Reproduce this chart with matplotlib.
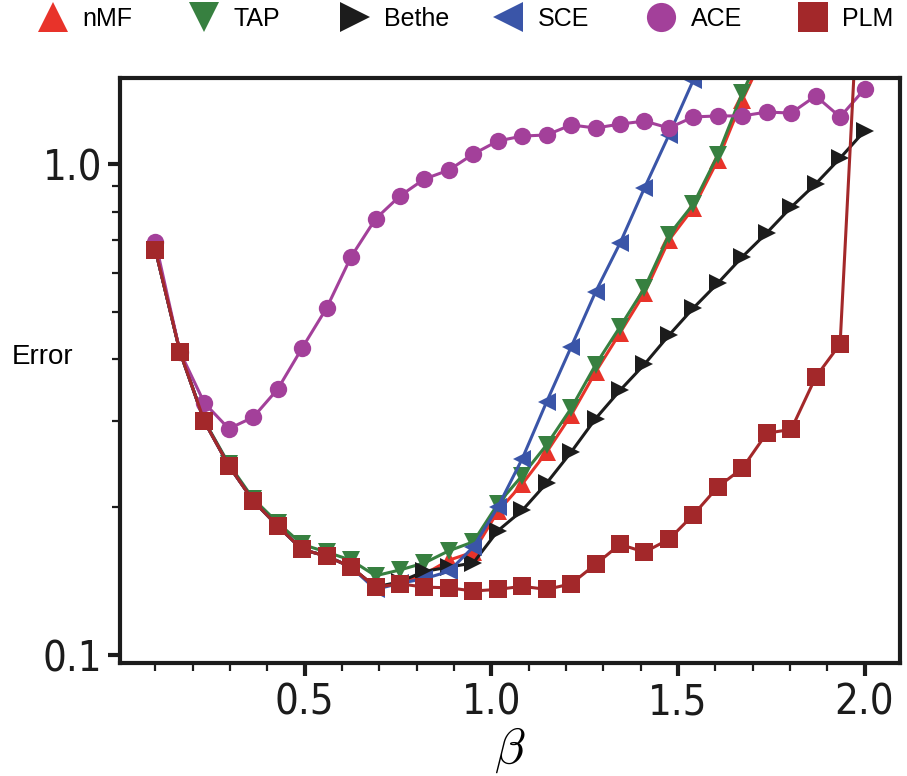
import matplotlib
matplotlib.use('Agg')
import matplotlib.pyplot as plt
from matplotlib import font_manager
from matplotlib.font_manager import FontProperties
from matplotlib.lines import Line2D
from matplotlib.ticker import FixedLocator, MultipleLocator, NullFormatter
import numpy as np

# inverse temperature grid (30 points from 0.1 to 2.0)
beta = np.linspace(0.1, 2.0, 30)

# reconstruction error per method
err_nmf = [0.668, 0.415, 0.299, 0.243, 0.206, 0.183, 0.164, 0.159, 0.151, 0.1375,
           0.140, 0.146, 0.156, 0.162, 0.196, 0.223, 0.259, 0.308, 0.377, 0.453,
           0.546, 0.700, 0.814, 1.019, 1.350, 1.72]
err_tap = [0.668, 0.415, 0.300, 0.245, 0.208, 0.186, 0.168, 0.162, 0.156, 0.145,
           0.149, 0.154, 0.163, 0.170, 0.203, 0.232, 0.268, 0.318, 0.390, 0.466,
           0.559, 0.717, 0.829, 1.043, 1.395, 1.78]
err_bethe = [0.668, 0.415, 0.299, 0.243, 0.206, 0.183, 0.164, 0.159, 0.151, 0.1375,
             0.141, 0.148, 0.151, 0.154, 0.179, 0.197, 0.224, 0.259, 0.303, 0.346,
             0.391, 0.448, 0.509, 0.572, 0.647, 0.724, 0.817, 0.911, 1.028, 1.168]
err_sce = [0.668, 0.415, 0.299, 0.243, 0.206, 0.183, 0.164, 0.159, 0.151, 0.136,
           0.140, 0.143, 0.148, 0.166, 0.200, 0.251, 0.328, 0.424, 0.549, 0.690,
           0.894, 1.146, 1.483]
err_ace = [0.694, 0.415, 0.326, 0.289, 0.305, 0.348, 0.422, 0.509, 0.647, 0.773,
           0.861, 0.932, 0.972, 1.048, 1.114, 1.140, 1.146, 1.201, 1.184, 1.206,
           1.223, 1.184, 1.247, 1.253, 1.253, 1.276, 1.270, 1.376, 1.247, 1.421]
err_plm = [0.668, 0.415, 0.299, 0.243, 0.206, 0.183, 0.164, 0.159, 0.151, 0.1375,
           0.1396, 0.1375, 0.137, 0.135, 0.136, 0.138, 0.136, 0.1396, 0.153, 0.168,
           0.162, 0.172, 0.193, 0.220, 0.240, 0.283, 0.288, 0.368, 0.430, 4.0]

names = ['nMF', 'TAP', 'Bethe', 'SCE', 'ACE', 'PLM']
series = [err_nmf, err_tap, err_bethe, err_sce, err_ace, err_plm]
colors = ['#e8332a', '#378040', '#1c1c1c', '#3a55a8', '#a3409a', '#a3282a']
markers = ['^', 'v', '>', '<', 'o', 's']

plt.rcParams['mathtext.fontset'] = 'cm'
text_font = ['Liberation Sans', 'DejaVu Sans']

# tick labels in the original are a tall narrow sans; take a narrow face if there is one
avail = [(f.name, str(f.stretch)) for f in font_manager.fontManager.ttflist]
if any(n == 'Liberation Sans Narrow' for n, s in avail):
    tick_fp = FontProperties(family='Liberation Sans Narrow', size=30)
elif any(n == 'DejaVu Sans' and 'condensed' in s for n, s in avail):
    tick_fp = FontProperties(family='DejaVu Sans', stretch='condensed', size=30)
else:
    tick_fp = FontProperties(family='Liberation Sans', size=30)

fig = plt.figure(figsize=(9.07, 7.76), dpi=100)
ax = fig.add_axes([0.1323, 0.1456, 0.86, 0.7539])

for name, vals, c, m in zip(names, series, colors, markers):
    ax.plot(beta[:len(vals)], vals, color=c, marker=m, markersize=12.5,
            markeredgewidth=0, linewidth=2.2, label=name)

ax.set_yscale('log')
ax.set_ylim(0.0963, 1.497)
ax.set_xlim(0.005, 2.095)

ax.yaxis.set_major_locator(FixedLocator([0.1, 1.0]))
ax.set_yticklabels(['0.1', '1.0'])
ax.yaxis.set_minor_locator(FixedLocator([0.2, 0.3, 0.4, 0.5, 0.6, 0.7, 0.8, 0.9]))
ax.yaxis.set_minor_formatter(NullFormatter())

ax.set_xticks([0.5, 1.0, 1.5, 2.0])
ax.set_xticklabels(['0.5', '1.0', '1.5', '2.0'])
ax.xaxis.set_minor_locator(MultipleLocator(0.1))

ax.tick_params(which='both', direction='out', top=False, right=False, color='#1c1c1c')
ax.tick_params(which='major', length=9, width=3, pad=4)
ax.tick_params(which='minor', length=5.5, width=1.6)
for lab in ax.get_xticklabels() + ax.get_yticklabels():
    lab.set_fontproperties(tick_fp)
    lab.set_color('#1c1c1c')

for s in ax.spines.values():
    s.set_linewidth(3)
    s.set_color('#1c1c1c')

ax.set_xlabel(r'$\beta$', fontsize=36, labelpad=2)
fig.text(0.013, 1 - 357 / 776, 'Error', fontsize=20, family=text_font, va='center', ha='left')

# legend row on top, one entry per method at fixed spacing
centers_px = [52, 203, 354, 507, 660, 812]
for name, c, m, cx in zip(names, colors, markers, centers_px):
    h = Line2D([], [], color=c, marker=m, markersize=21, markeredgewidth=0, linestyle='none')
    fig.legend(handles=[h], labels=[name], loc='center left',
               bbox_to_anchor=((cx - 12) / 907, 1 - 19 / 776), frameon=False,
               borderpad=0, borderaxespad=0, handlelength=1.0, handletextpad=0.7,
               prop={'family': text_font, 'size': 18})

fig.savefig('out.png', dpi=100)
